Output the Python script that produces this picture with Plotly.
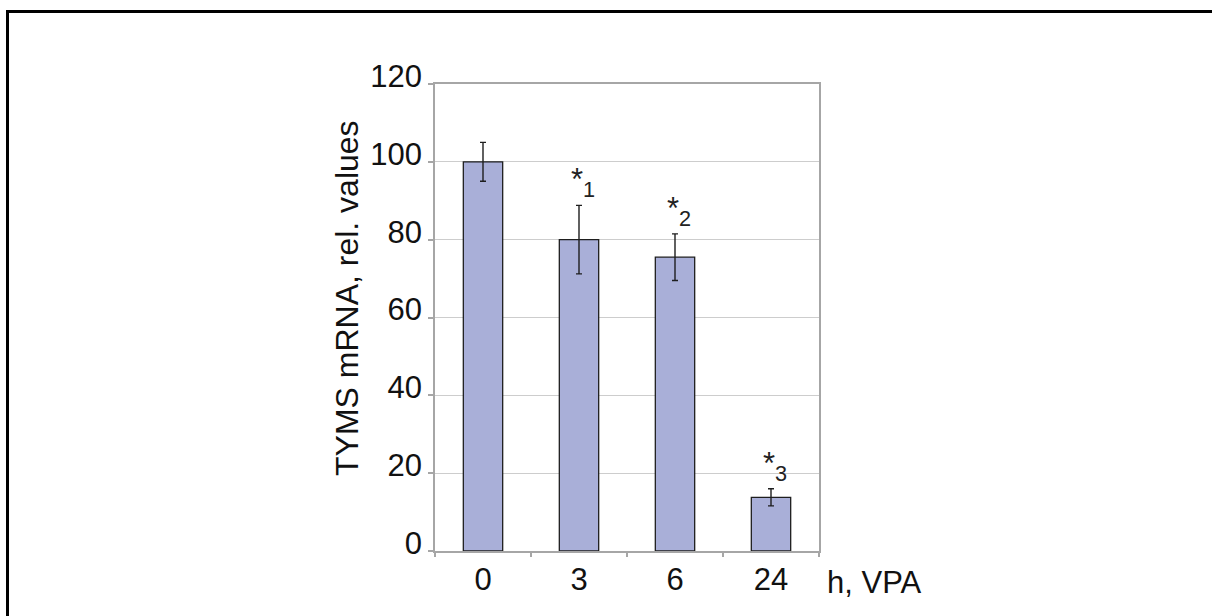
import plotly.graph_objects as go

# TYMS expression after VPA treatment
hours = ["0", "3", "6", "24"]
tyms_mrna = [100.0, 80.0, 75.5, 13.8]
tyms_err = [5.0, 8.8, 6.0, 2.2]
signif_labels = ["", "*<sub>1</sub>", "*<sub>2</sub>", "*<sub>3</sub>"]
y_ticks = [0, 20, 40, 60, 80, 100, 120]

FONT = "Liberation Sans, Arial, sans-serif"
AXIS_GRAY = "#A6A6A6"
TXT = 31

W, H = 1212, 616
ML, MR, MT, MB = 435, 393, 84, 65

fig = go.Figure()
fig.add_trace(go.Bar(
    x=hours,
    y=tyms_mrna,
    marker=dict(color="#A9AFD8", line=dict(color="#1E1E1E", width=1.3)),
    error_y=dict(type="data", array=tyms_err, visible=True,
                 color="#1E1E1E", thickness=1.4, width=3),
    showlegend=False,
))

# significance marks above the error bars (positioned by category index)
for i, (v, e, lab) in enumerate(zip(tyms_mrna, tyms_err, signif_labels)):
    if lab:
        fig.add_annotation(
            x=i, y=v + e, xref="x", yref="y", text=lab, showarrow=False,
            xanchor="left", xshift=-10, yanchor="bottom", yshift=1,
            font=dict(family=FONT, size=31, color="#222222"),
        )

# axis unit label to the right of the categories
fig.add_annotation(
    x=1.0, y=0, xref="paper", yref="paper", text="h, VPA", showarrow=False,
    xanchor="left", yanchor="top", xshift=6, yshift=-12,
    font=dict(family=FONT, size=TXT, color="#111111"),
)

# pixel -> paper helpers for decorations outside the plot area
px = lambda x: (x - ML) / (W - ML - MR)
py = lambda y: (H - MB - y) / (H - MT - MB)

# rotated y-axis title
fig.add_annotation(
    x=px(347), y=py(298), xref="paper", yref="paper",
    text="TYMS mRNA, rel. values", showarrow=False, textangle=-90,
    xanchor="center", yanchor="middle",
    font=dict(family=FONT, size=32, color="#111111"),
)

# outer frame (top and left edges)
fig.add_shape(
    type="path", xref="paper", yref="paper",
    path=f"M {px(7.5)},{py(640)} L {px(7.5)},{py(11.5)} L {px(1240)},{py(11.5)}",
    line=dict(color="black", width=3),
)

fig.update_layout(
    width=W, height=H,
    margin=dict(l=ML, r=MR, t=MT, b=MB),
    paper_bgcolor="white", plot_bgcolor="white",
    bargap=0.59,
    font=dict(family=FONT, color="#111111"),
)
fig.update_xaxes(
    type="category", categoryorder="array", categoryarray=hours,
    range=[-0.5, len(hours) - 0.5],
    showgrid=False, showline=True, linecolor=AXIS_GRAY,
    linewidth=1.5, mirror=True, ticks="outside", tickson="boundaries",
    ticklen=4, tickcolor=AXIS_GRAY, tickwidth=1.5,
    tickfont=dict(size=TXT, family=FONT, color="#111111"),
)
fig.update_yaxes(
    range=[0, 120], tickvals=y_ticks, showgrid=True, gridcolor="#CDCDCD",
    gridwidth=1, zeroline=False, showline=True, linecolor=AXIS_GRAY,
    linewidth=1.5, mirror=True, ticks="outside", ticklen=5,
    tickcolor=AXIS_GRAY, tickwidth=1.5, ticklabelshift=-8,
    tickfont=dict(size=TXT, family=FONT, color="#111111"),
)

fig.write_html("out.html")
